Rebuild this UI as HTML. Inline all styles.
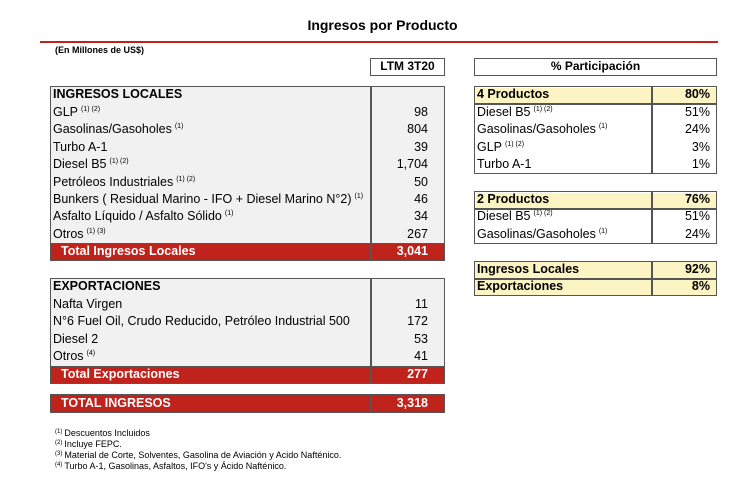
<!DOCTYPE html>
<html><head><meta charset="utf-8"><style>
*{margin:0;padding:0;box-sizing:border-box}
body{width:750px;height:493px;background:#fff;font-family:"Liberation Sans",Arial,sans-serif;color:#000;position:relative;overflow:hidden}
.a{position:absolute}
.box{position:absolute;border:1.5px solid #555}
.r{position:absolute;height:17.4px;line-height:17.4px;font-size:12.5px;white-space:nowrap}
sup{font-size:7px;vertical-align:baseline;position:relative;top:-5px;line-height:0;margin-left:3px}
.b{font-weight:bold}
.red{position:absolute;background:#c0221c;color:#fff;font-weight:bold;border:1.5px solid #555}
.yel{background:#fdf4c4}
.fn{position:absolute;left:55px;font-size:9px;line-height:11px;white-space:nowrap}
.fn sup{font-size:6px;top:-3px;margin:0 2px 0 0}
</style></head><body>
<div class="a b" style="left:0;width:765px;top:17px;text-align:center;font-size:14px">Ingresos por Producto</div>
<div class="a" style="left:40px;top:41px;width:678px;height:2px;background:#c0221c"></div>
<div class="a b" style="left:55px;top:45px;font-size:9px">(En Millones de US$)</div>
<div class="box b" style="left:370px;top:58px;width:75px;height:18px;font-size:12px;text-align:center;line-height:15px">LTM 3T20</div>
<div class="box b" style="left:474px;top:58px;width:243px;height:18px;font-size:12px;text-align:center;line-height:15px">% Participación</div>

<div class="box" style="left:50px;top:86px;width:395px;height:175px;background:#f1f1f1"></div>
<div class="a" style="left:370px;top:86px;width:1.5px;height:175px;background:#555"></div>
<div class="r b" style="left:53px;top:86px">INGRESOS LOCALES</div>
<div class="r" style="left:53px;top:104px">GLP<sup>(1) (2)</sup></div>
<div class="r" style="left:53px;top:121px">Gasolinas/Gasoholes<sup>(1)</sup></div>
<div class="r" style="left:53px;top:139px">Turbo A-1</div>
<div class="r" style="left:53px;top:156px">Diesel B5<sup>(1) (2)</sup></div>
<div class="r" style="left:53px;top:174px">Petróleos Industriales<sup>(1) (2)</sup></div>
<div class="r" style="left:53px;top:191px">Bunkers ( Residual Marino - IFO + Diesel Marino N°2)<sup>(1)</sup></div>
<div class="r" style="left:53px;top:208px">Asfalto Líquido / Asfalto Sólido<sup>(1)</sup></div>
<div class="r" style="left:53px;top:226px">Otros<sup>(1) (3)</sup></div>
<div class="r" style="right:322px;top:104px">98</div>
<div class="r" style="right:322px;top:121px">804</div>
<div class="r" style="right:322px;top:139px">39</div>
<div class="r" style="right:322px;top:156px">1,704</div>
<div class="r" style="right:322px;top:174px">50</div>
<div class="r" style="right:322px;top:191px">46</div>
<div class="r" style="right:322px;top:208px">34</div>
<div class="r" style="right:322px;top:226px">267</div>
<div class="red" style="left:50px;top:243px;width:395px;height:18px"></div>
<div class="a" style="left:370px;top:243px;width:1.5px;height:18px;background:#555"></div>
<div class="r b" style="left:61px;top:243px;color:#fff">Total Ingresos Locales</div>
<div class="r b" style="right:322px;top:243px;color:#fff">3,041</div>

<div class="box" style="left:50px;top:278px;width:395px;height:106px;background:#f1f1f1"></div>
<div class="a" style="left:370px;top:278px;width:1.5px;height:106px;background:#555"></div>
<div class="r b" style="left:53px;top:278px">EXPORTACIONES</div>
<div class="r" style="left:53px;top:296px">Nafta Virgen</div>
<div class="r" style="left:53px;top:313px">N°6 Fuel Oil, Crudo Reducido, Petróleo Industrial 500</div>
<div class="r" style="left:53px;top:331px">Diesel 2</div>
<div class="r" style="left:53px;top:348px">Otros<sup>(4)</sup></div>
<div class="r" style="right:322px;top:296px">11</div>
<div class="r" style="right:322px;top:313px">172</div>
<div class="r" style="right:322px;top:331px">53</div>
<div class="r" style="right:322px;top:348px">41</div>
<div class="red" style="left:50px;top:366px;width:395px;height:18px"></div>
<div class="a" style="left:370px;top:366px;width:1.5px;height:18px;background:#555"></div>
<div class="r b" style="left:61px;top:366px;color:#fff">Total Exportaciones</div>
<div class="r b" style="right:322px;top:366px;color:#fff">277</div>

<div class="red" style="left:50px;top:394px;width:395px;height:19px"></div>
<div class="a" style="left:370px;top:394px;width:1.5px;height:19px;background:#555"></div>
<div class="r b" style="left:61px;top:395px;color:#fff">TOTAL INGRESOS</div>
<div class="r b" style="right:322px;top:395px;color:#fff">3,318</div>

<div class="fn" style="top:428px"><sup>(1)</sup>Descuentos Incluidos</div>
<div class="fn" style="top:439px"><sup>(2)</sup>Incluye FEPC.</div>
<div class="fn" style="top:450px"><sup>(3)</sup>Material de Corte, Solventes, Gasolina de Aviación y Acido Nafténico.</div>
<div class="fn" style="top:461px"><sup>(4)</sup>Turbo A-1, Gasolinas, Asfaltos, IFO's y Ácido Nafténico.</div>

<div class="box" style="left:474px;top:86px;width:243px;height:88px"></div>
<div class="a yel" style="left:475.5px;top:87.5px;width:240px;height:16px"></div>
<div class="a" style="left:474px;top:103px;width:243px;height:1.5px;background:#555"></div>
<div class="a" style="left:651px;top:86px;width:1.5px;height:88px;background:#555"></div>
<div class="r b" style="left:477px;top:86px">4 Productos</div>
<div class="r b" style="right:40px;top:86px">80%</div>
<div class="r" style="left:477px;top:104px">Diesel B5<sup>(1) (2)</sup></div>
<div class="r" style="left:477px;top:121px">Gasolinas/Gasoholes<sup>(1)</sup></div>
<div class="r" style="left:477px;top:139px">GLP<sup>(1) (2)</sup></div>
<div class="r" style="left:477px;top:156px">Turbo A-1</div>
<div class="r" style="right:40px;top:104px">51%</div>
<div class="r" style="right:40px;top:121px">24%</div>
<div class="r" style="right:40px;top:139px">3%</div>
<div class="r" style="right:40px;top:156px">1%</div>

<div class="box" style="left:474px;top:191px;width:243px;height:53px"></div>
<div class="a yel" style="left:475.5px;top:192.5px;width:240px;height:16px"></div>
<div class="a" style="left:474px;top:208px;width:243px;height:1.5px;background:#555"></div>
<div class="a" style="left:651px;top:191px;width:1.5px;height:53px;background:#555"></div>
<div class="r b" style="left:477px;top:191px">2 Productos</div>
<div class="r b" style="right:40px;top:191px">76%</div>
<div class="r" style="left:477px;top:208px">Diesel B5<sup>(1) (2)</sup></div>
<div class="r" style="left:477px;top:226px">Gasolinas/Gasoholes<sup>(1)</sup></div>
<div class="r" style="right:40px;top:208px">51%</div>
<div class="r" style="right:40px;top:226px">24%</div>

<div class="box yel" style="left:474px;top:261px;width:243px;height:35px"></div>
<div class="a" style="left:474px;top:278px;width:243px;height:1.5px;background:#555"></div>
<div class="a" style="left:651px;top:261px;width:1.5px;height:35px;background:#555"></div>
<div class="r b" style="left:477px;top:261px">Ingresos Locales</div>
<div class="r b" style="right:40px;top:261px">92%</div>
<div class="r b" style="left:477px;top:278px">Exportaciones</div>
<div class="r b" style="right:40px;top:278px">8%</div>
</body></html>
